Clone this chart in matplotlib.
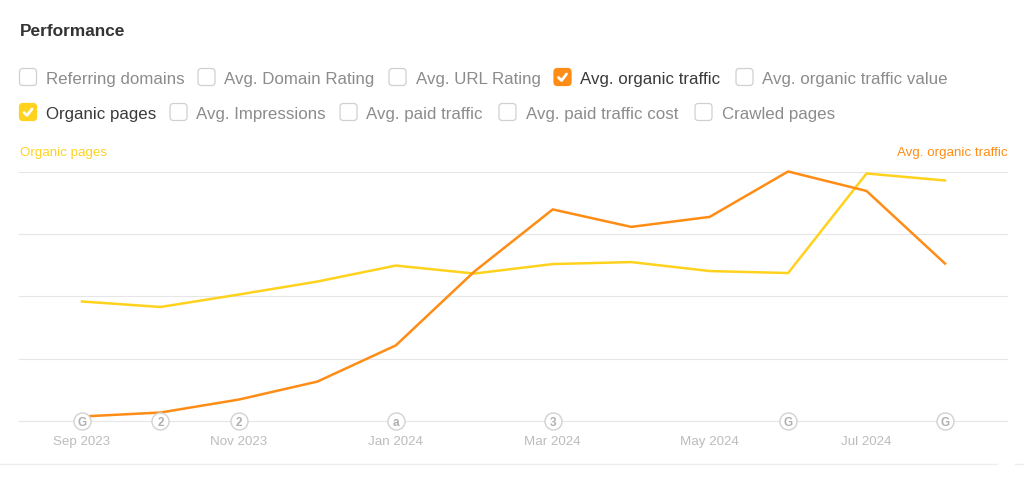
import numpy as np
import matplotlib.pyplot as plt
from matplotlib.patches import FancyBboxPatch

plt.rcParams['font.family'] = ['Liberation Sans', 'DejaVu Sans']

months = ['Sep 2023', 'Oct 2023', 'Nov 2023', 'Dec 2023', 'Jan 2024', 'Feb 2024',
          'Mar 2024', 'Apr 2024', 'May 2024', 'Jun 2024', 'Jul 2024', 'Aug 2024']
organic_traffic = [1.8, 3.4, 8.6, 15.8, 30.3, 59.9, 84.8, 77.8, 81.8, 100, 92.2, 63.1]
organic_pages = [47.9, 45.7, 50.7, 55.9, 62.3, 59.1, 62.9, 63.7, 60.1, 59.3, 99.2, 96.4]

# small circles sitting on the baseline
event_months = ['Sep 2023', 'Oct 2023', 'Nov 2023', 'Jan 2024', 'Mar 2024', 'Jun 2024', 'Aug 2024']
event_labels = ['G', '2', '2', 'a', '3', 'G', 'G']

row1_labels = ['Referring domains', 'Avg. Domain Rating', 'Avg. URL Rating',
               'Avg. organic traffic', 'Avg. organic traffic value']
row2_labels = ['Organic pages', 'Avg. Impressions', 'Avg. paid traffic',
               'Avg. paid traffic cost', 'Crawled pages']
row1_x = [19.5, 198, 389, 554, 736]
row2_x = [19.5, 170, 340, 499, 695]

ORANGE = '#ff8c14'
YELLOW = '#ffd21e'
W, H = 1024, 481

fig = plt.figure(figsize=(W / 100, H / 100), dpi=100, facecolor='white')

# chart area, in pixels 19..1007 and 172.5..422
ax = fig.add_axes([19 / W, 1 - 422 / H, (1007 - 19) / W, (422 - 172.5) / H])
x = np.arange(len(months))
ax.set_xlim((19 - 82) / 78.45, 11 + (1007 - 945) / 78.45)
ax.set_ylim(0, 100)
ax.set_yticks([0, 25, 50, 75, 100])
ax.set_yticklabels([])
ax.set_xticks(x[::2])
ax.set_xticklabels(months[::2], fontsize=9.6, color='#bcbcbc')
ax.tick_params(length=0, pad=10)
for gl in ax.yaxis.get_gridlines():
    gl.set_clip_on(False)
ax.grid(axis='y', color='#e6e6e6', lw=0.8)
ax.set_axisbelow(True)
for s in ax.spines.values():
    s.set_visible(False)

ax.plot(x, organic_pages, color=YELLOW, lw=1.8, clip_on=False, zorder=3, solid_joinstyle='miter')
ax.plot(x, organic_traffic, color=ORANGE, lw=1.8, clip_on=False, zorder=4, solid_joinstyle='miter')

ev_x = [months.index(m) for m in event_months]
ax.scatter(ev_x, [0] * len(ev_x), s=150, facecolor='white', edgecolor='#d2d2d2',
           linewidth=1, clip_on=False, zorder=5)
for ex, lab in zip(ev_x, event_labels):
    ax.text(ex, 0, lab, ha='center', va='center_baseline', fontsize=8.5, fontweight='bold',
            color='#b0b0b0', zorder=6)

# overlay for the header, in pixel coordinates
ui = fig.add_axes([0, 0, 1, 1], facecolor='none')
ui.set_xlim(0, W)
ui.set_ylim(H, 0)
ui.axis('off')

ui.text(19.5, 31.5, 'Performance', fontsize=12.4, fontweight='bold', color='#333333', va='center')


def checkbox(px, py, label, fill=None):
    face = fill if fill else 'white'
    edge = fill if fill else '#d0d0d0'
    box = FancyBboxPatch((px + 3, py + 3), 11, 11, boxstyle='round,pad=3,rounding_size=3.5',
                         facecolor=face, edgecolor=edge, lw=0.9)
    ui.add_patch(box)
    if fill:
        ui.plot([px + 4.5, px + 7.5, px + 12.5], [py + 9, py + 12, py + 5.5], color='white',
                lw=2, solid_capstyle='round', solid_joinstyle='round')
    ui.text(px + 26.5, py + 10, label, fontsize=12.2, va='center',
            color='#3a3a3a' if fill else '#8c8c8c')


for px, lab in zip(row1_x, row1_labels):
    checkbox(px, 69.5, lab, ORANGE if lab == 'Avg. organic traffic' else None)
for px, lab in zip(row2_x, row2_labels):
    checkbox(px, 104.5, lab, YELLOW if lab == 'Organic pages' else None)

ui.text(19.5, 153, 'Organic pages', fontsize=9.6, color=YELLOW, va='center')
ui.text(1007.5, 153, 'Avg. organic traffic', fontsize=9.65, color=ORANGE, va='center', ha='right')

# divider under the chart
ui.plot([0, 997], [464.5, 464.5], color='#eeeeee', lw=1)
ui.plot([1015, 1024], [464.5, 464.5], color='#eeeeee', lw=1)

fig.savefig('out.png', dpi=100)
